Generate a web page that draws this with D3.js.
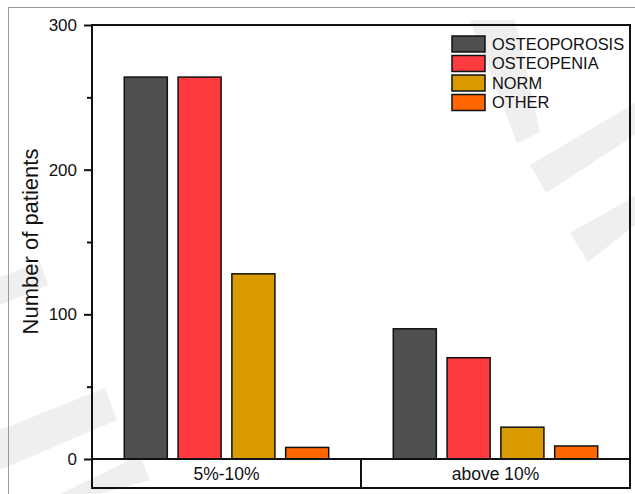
<!DOCTYPE html>
<html>
<head>
<meta charset="utf-8">
<script src="https://cdn.jsdelivr.net/npm/d3@7"></script>
<style>
  html, body { margin: 0; padding: 0; background: #fff; }
  svg { display: block; }
  text { font-family: Arial, "Liberation Sans", sans-serif; fill: #111; }
</style>
</head>
<body>
<svg id="chart" width="635" height="494"></svg>
<script>
// ---- data ----
const categories = ["5%-10%", "above 10%"];
const series = ["OSTEOPOROSIS", "OSTEOPENIA", "NORM", "OTHER"];
const osteoporosis = [264, 90];
const osteopenia = [264, 70];
const norm = [128, 22];
const other = [8, 9];
const yTicks = [0, 100, 200, 300];
const yMinorTicks = [50, 150, 250];
const yLabel = "Number of patients";

const colors = ["#4f4f4f", "#fe3c40", "#d99a00", "#ff6600"];
const valuesBySeries = [osteoporosis, osteopenia, norm, other];

const svg = d3.select("#chart");

// faint watermark stripes (background decoration)
const stripes = [
  [[530,165],[635,103],[635,135],[546,193]],
  [[570,233],[635,196],[635,225],[588,262]],
  [[0,277],[40,262],[48,285],[0,305]],
  [[0,430],[105,388],[117,420],[0,470]],
  [[60,494],[140,455],[150,480],[100,494]],
  [[470,20],[515,20],[540,132],[517,143]]
];
svg.selectAll("polygon.wm").data(stripes).join("polygon")
  .attr("class","wm")
  .attr("points", d => d.map(p => p.join(",")).join(" "))
  .attr("fill", "#efefef");

// outer border of the figure
svg.append("rect").attr("x", 8.5).attr("y", 7.5).attr("width", 640).attr("height", 500)
  .attr("fill", "none").attr("stroke", "#9a9a9a").attr("stroke-width", 1);

const plotLeft = 92, plotRight = 630, plotTop = 25, zeroY = 459, boxBottom = 488;

const y = d3.scaleLinear().domain([0, 300]).range([zeroY, plotTop]);
const x = d3.scaleBand().domain(categories).range([plotLeft, plotRight]).padding(0);
const xs = d3.scaleBand().domain(series).range([0, x.bandwidth()])
  .paddingInner(0.2).paddingOuter(0.6);

// bars
const barData = [];
series.forEach((s, si) => {
  categories.forEach((c, ci) => {
    barData.push({ s, c, v: valuesBySeries[si][ci], color: colors[si] });
  });
});
svg.append("g").selectAll("rect").data(barData).join("rect")
  .attr("x", d => x(d.c) + xs(d.s))
  .attr("y", d => y(d.v))
  .attr("width", xs.bandwidth())
  .attr("height", d => y(0) - y(d.v))
  .attr("fill", d => d.color)
  .attr("stroke", "#111")
  .attr("stroke-width", 1.5);

// y axis (major ticks)
const yAxis = d3.axisLeft(y).tickValues(yTicks).tickSize(8).tickPadding(7).tickFormat(d3.format("d"));
const gy = svg.append("g").attr("transform", `translate(${plotLeft},0)`).call(yAxis);
gy.select(".domain").remove();
gy.selectAll(".tick line").attr("stroke", "#111").attr("stroke-width", 2);
gy.selectAll(".tick text").style("font-size", "17px").attr("fill", "#111")
  .style("font-family", "Arial, 'Liberation Sans', sans-serif");

// minor ticks
const yMinor = d3.axisLeft(y).tickValues(yMinorTicks).tickSize(5).tickFormat("");
const gym = svg.append("g").attr("transform", `translate(${plotLeft},0)`).call(yMinor);
gym.select(".domain").remove();
gym.selectAll(".tick line").attr("stroke", "#111").attr("stroke-width", 2);

// frame lines
const frame = svg.append("g").attr("stroke", "#111").attr("stroke-width", 2).attr("fill", "none");
frame.append("line").attr("x1", plotLeft).attr("x2", plotLeft).attr("y1", plotTop - 1).attr("y2", boxBottom + 1);
frame.append("line").attr("x1", plotRight).attr("x2", plotRight).attr("y1", plotTop - 1).attr("y2", boxBottom + 1);
frame.append("line").attr("x1", plotLeft).attr("x2", plotRight).attr("y1", plotTop).attr("y2", plotTop);
frame.append("line").attr("x1", plotLeft).attr("x2", plotRight).attr("y1", y(0)).attr("y2", y(0));
frame.append("line").attr("x1", plotLeft).attr("x2", plotRight).attr("y1", boxBottom).attr("y2", boxBottom);
frame.selectAll("line.div").data(categories.slice(1)).join("line").attr("class", "div")
  .attr("x1", d => x(d)).attr("x2", d => x(d)).attr("y1", y(0)).attr("y2", boxBottom);

// category labels
svg.append("g").selectAll("text").data(categories).join("text")
  .attr("x", d => x(d) + x.bandwidth() / 2)
  .attr("y", (zeroY + boxBottom) / 2)
  .attr("dy", "0.35em")
  .attr("text-anchor", "middle")
  .style("font-size", "17.5px")
  .text(d => d);

// y label
svg.append("text")
  .attr("transform", `translate(37.5,241.5) rotate(-90)`)
  .attr("text-anchor", "middle")
  .style("font-size", "22px")
  .text(yLabel);

// legend
const lg = svg.append("g").attr("transform", "translate(452,36)");
const rows = lg.selectAll("g").data(series).join("g")
  .attr("transform", (d, i) => `translate(0,${i * 19.5})`);
rows.append("rect").attr("width", 33).attr("height", 16)
  .attr("fill", (d, i) => colors[i]).attr("stroke", "#111").attr("stroke-width", 1.5);
rows.append("text").attr("x", 40).attr("y", 8).attr("dy", "0.36em")
  .style("font-size", "16.4px").text(d => d);
</script>
</body>
</html>
